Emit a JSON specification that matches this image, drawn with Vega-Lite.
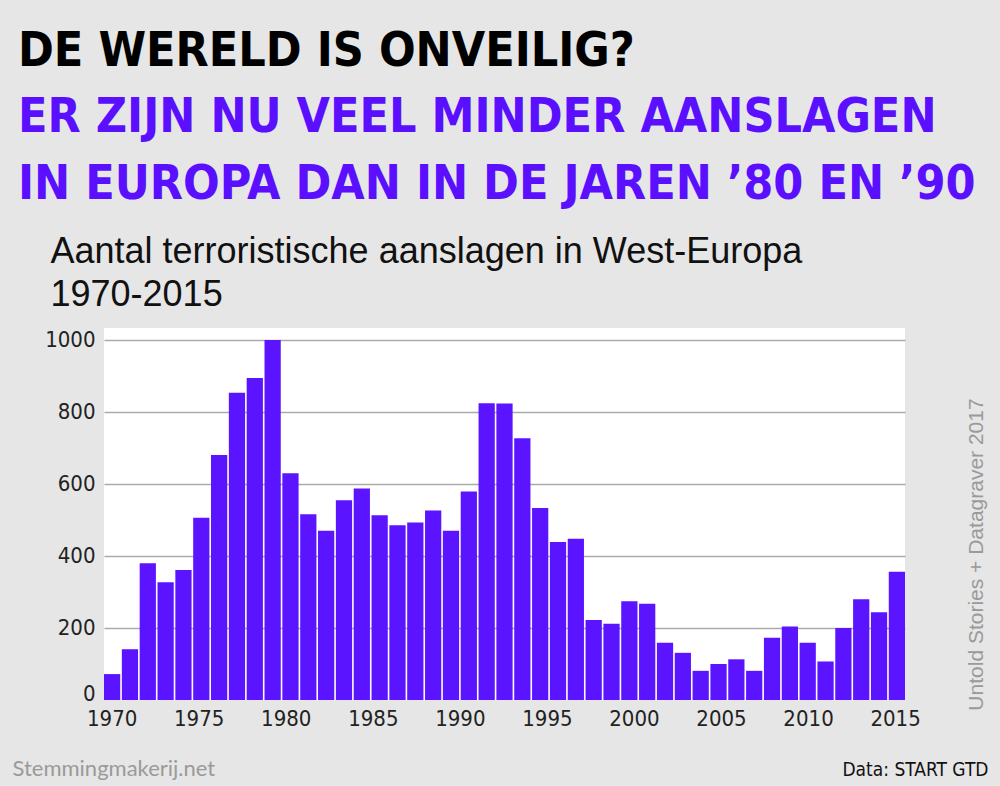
{
  "$schema": "https://vega.github.io/schema/vega-lite/v6.json",
  "width": 801,
  "height": 372,
  "autosize": {"type": "none"},
  "padding": {"left": 104, "top": 328, "right": 95, "bottom": 86},
  "background": "#e6e6e6",
  "config": {"view": {"fill": "white", "stroke": null}},
  "title": {
    "text": "DE WERELD IS ONVEILIG?",
    "subtitle": ["ER ZIJN NU VEEL MINDER AANSLAGEN", "IN EUROPA DAN IN DE JAREN ’80 EN ’90"],
    "anchor": "start",
    "frame": "group",
    "dx": -86,
    "offset": 24,
    "font": "DejaVu Sans Condensed, sans-serif",
    "fontSize": 48,
    "fontWeight": "bold",
    "color": "#000000",
    "subtitleFont": "DejaVu Sans Condensed, sans-serif",
    "subtitleFontSize": 48,
    "subtitleFontWeight": "bold",
    "subtitleColor": "#5b0fff",
    "subtitleLineHeight": 67,
    "subtitlePadding": 18
  },
  "data": {
    "values": [
      {"year": 1970, "value": 72}, {"year": 1971, "value": 141}, {"year": 1972, "value": 380},
      {"year": 1973, "value": 327}, {"year": 1974, "value": 361}, {"year": 1975, "value": 506},
      {"year": 1976, "value": 680}, {"year": 1977, "value": 853}, {"year": 1978, "value": 894},
      {"year": 1979, "value": 1000}, {"year": 1980, "value": 630}, {"year": 1981, "value": 516},
      {"year": 1982, "value": 470}, {"year": 1983, "value": 555}, {"year": 1984, "value": 587},
      {"year": 1985, "value": 513}, {"year": 1986, "value": 485}, {"year": 1987, "value": 493},
      {"year": 1988, "value": 526}, {"year": 1989, "value": 470}, {"year": 1990, "value": 579},
      {"year": 1991, "value": 824}, {"year": 1992, "value": 823}, {"year": 1994, "value": 727},
      {"year": 1995, "value": 533}, {"year": 1996, "value": 439}, {"year": 1997, "value": 448},
      {"year": 1998, "value": 222}, {"year": 1999, "value": 212}, {"year": 2000, "value": 274},
      {"year": 2001, "value": 267}, {"year": 2002, "value": 159}, {"year": 2003, "value": 131},
      {"year": 2004, "value": 81}, {"year": 2005, "value": 100}, {"year": 2006, "value": 113},
      {"year": 2007, "value": 81}, {"year": 2008, "value": 173}, {"year": 2009, "value": 204},
      {"year": 2010, "value": 159}, {"year": 2011, "value": 107}, {"year": 2012, "value": 200},
      {"year": 2013, "value": 280}, {"year": 2014, "value": 244}, {"year": 2015, "value": 356}
    ]
  },
  "layer": [
    {
      "mark": {"type": "bar", "color": "#5b14ff"},
      "encoding": {
        "x": {
          "field": "year",
          "type": "ordinal",
          "scale": {"paddingInner": 0.09, "paddingOuter": 0},
          "axis": {
            "orient": "bottom",
            "labels": false,
            "ticks": false,
            "domain": false,
            "grid": false,
            "title": "Data: START GTD",
            "titleX": 884,
            "titleY": 75,
            "titleAlign": "right",
            "titleBaseline": "alphabetic",
            "titleFont": "DejaVu Sans Condensed, sans-serif",
            "titleFontSize": 19,
            "titleFontWeight": "normal",
            "titleColor": "#111111"
          }
        },
        "y": {
          "field": "value",
          "type": "quantitative",
          "scale": {"domain": [0, 1033], "nice": false},
          "axis": {
            "orient": "left",
            "values": [0, 200, 400, 600, 800, 1000],
            "format": "d",
            "grid": true,
            "gridColor": "#aaaaaa",
            "gridWidth": 1.5,
            "gridOpacity": {"condition": {"test": "datum.value === 0", "value": 0}, "value": 1},
            "ticks": false,
            "domain": false,
            "labelFont": "DejaVu Sans Condensed, sans-serif",
            "labelFontSize": 22,
            "labelColor": "#222222",
            "labelPadding": 9,
            "labelBaseline": {"condition": {"test": "datum.value === 0", "value": "alphabetic"}, "value": "middle"},
            "title": ["Aantal terroristische aanslagen in West-Europa", "1970-2015"],
            "titleAngle": 0,
            "titleAlign": "left",
            "titleBaseline": "alphabetic",
            "titleX": -54,
            "titleY": -66,
            "titleFont": "Liberation Sans, Arial, sans-serif",
            "titleFontSize": 36,
            "titleFontWeight": "normal",
            "titleColor": "#111111",
            "titleLineHeight": 43
          }
        }
      }
    },
    {
      "mark": {"type": "point", "opacity": 0},
      "encoding": {
        "x": {
          "field": "year",
          "type": "quantitative",
          "scale": {"domain": [1969.56, 2015.57], "nice": false, "zero": false},
          "axis": {
            "orient": "bottom",
            "values": [1970, 1975, 1980, 1985, 1990, 1995, 2000, 2005, 2010, 2015],
            "format": "d",
            "grid": false,
            "ticks": false,
            "domain": false,
            "labelFont": "DejaVu Sans Condensed, sans-serif",
            "labelFontSize": 22,
            "labelColor": "#222222",
            "labelPadding": 8,
            "labelFlush": false,
            "labelOverlap": false,
            "title": "Stemmingmakerij.net",
            "titleX": -92,
            "titleY": 75,
            "titleAlign": "left",
            "titleBaseline": "alphabetic",
            "titleFont": "Lato, sans-serif",
            "titleFontSize": 22,
            "titleFontWeight": "normal",
            "titleColor": "#9a9a9a"
          }
        },
        "y": {
          "field": "value",
          "type": "quantitative",
          "axis": {
            "orient": "right",
            "labels": false,
            "ticks": false,
            "domain": false,
            "grid": false,
            "title": "Untold Stories + Datagraver 2017",
            "titleAngle": -90,
            "titleX": 71,
            "titleY": 226,
            "titleAlign": "center",
            "titleBaseline": "middle",
            "titleFont": "Liberation Sans, Arial, sans-serif",
            "titleFontSize": 21,
            "titleFontWeight": "normal",
            "titleColor": "#9a9a9a"
          }
        }
      }
    }
  ],
  "resolve": {"scale": {"x": "independent"}, "axis": {"x": "independent", "y": "independent"}}
}
